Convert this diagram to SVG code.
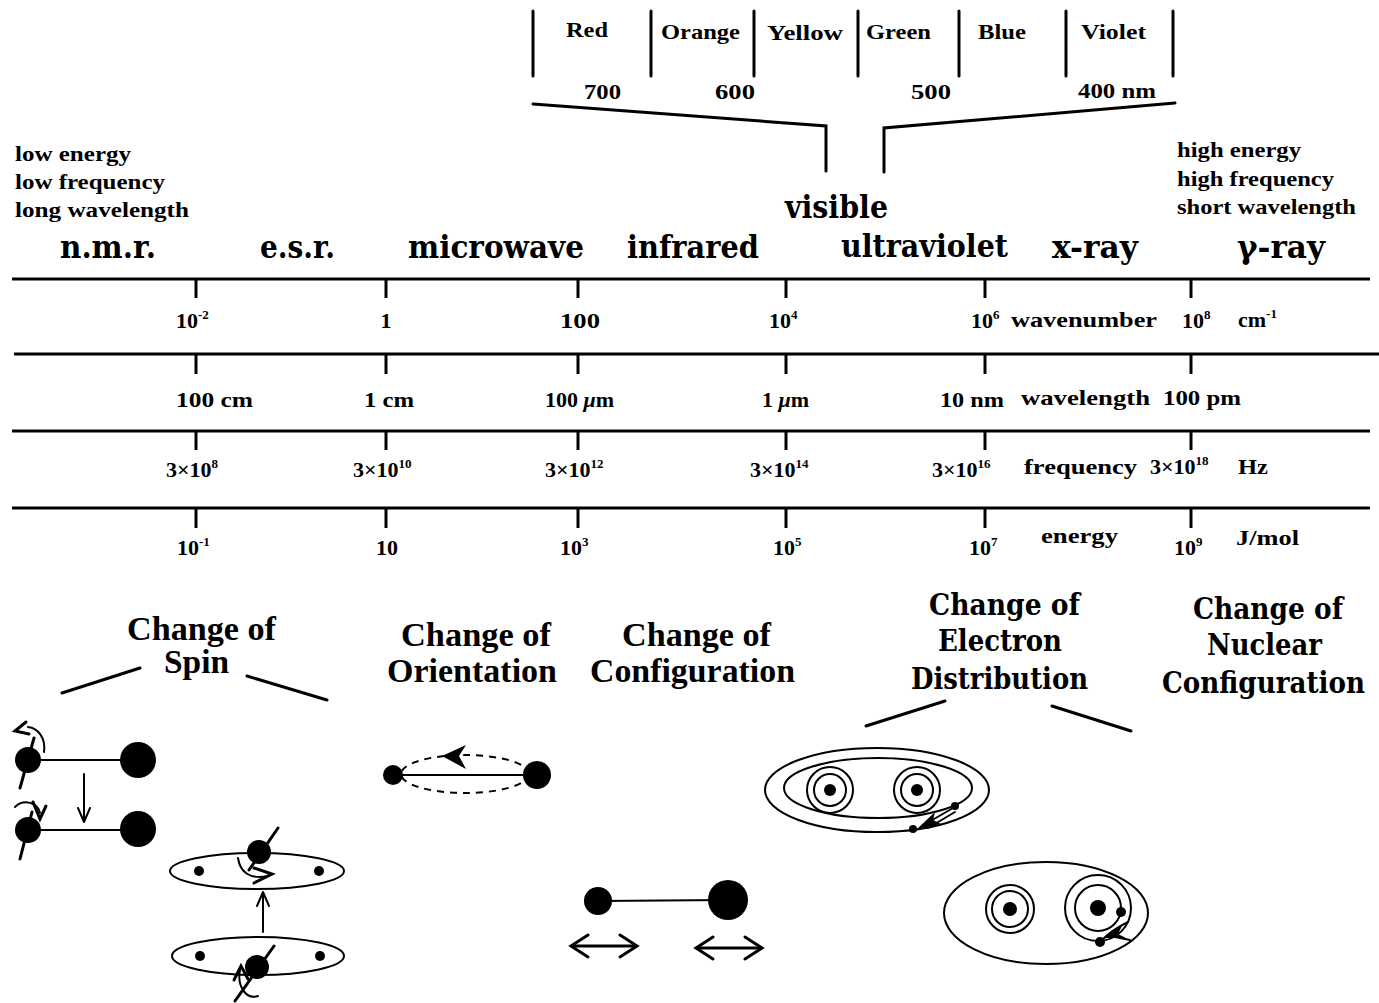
<svg xmlns="http://www.w3.org/2000/svg" width="1379" height="1003" viewBox="0 0 1379 1003">
<style>
  text { fill: #000; }
  .t { font-family: "Liberation Serif", "Times New Roman", serif; font-weight: bold; font-size: 22px; }
  .sup { font-size: 13px; }
  .h { font-family: "DejaVu Serif", serif; font-weight: bold; font-size: 31px; }
  .c { font-family: "Liberation Serif", serif; font-weight: bold; font-size: 33px; }
  .e { font-family: "DejaVu Serif", serif; font-weight: bold; font-size: 29px; }
  .ln { stroke: #000; stroke-width: 3; fill: none; stroke-linecap: round; }
  .thin { stroke: #000; stroke-width: 2; fill: none; stroke-linecap: round; stroke-linejoin: round; }
  .axis { stroke: #000; stroke-width: 3; }
  .tick { stroke: #000; stroke-width: 3; }
  .dot { fill: #000; }
</style>

<!-- visible band detail -->
<g id="visible-band">
  <g class="ln">
    <line x1="533" y1="11" x2="533" y2="76"/>
    <line x1="651" y1="11" x2="651" y2="76"/>
    <line x1="754" y1="11" x2="754" y2="76"/>
    <line x1="858" y1="11" x2="858" y2="76"/>
    <line x1="959" y1="11" x2="959" y2="76"/>
    <line x1="1066" y1="11" x2="1066" y2="76"/>
    <line x1="1173" y1="11" x2="1173" y2="76"/>
  </g>
  <text class="t" x="566" y="37" textLength="42" lengthAdjust="spacingAndGlyphs">Red</text>
  <text class="t" x="661" y="39" textLength="79" lengthAdjust="spacingAndGlyphs">Orange</text>
  <text class="t" x="767" y="40" textLength="76" lengthAdjust="spacingAndGlyphs">Yellow</text>
  <text class="t" x="866" y="39" textLength="65" lengthAdjust="spacingAndGlyphs">Green</text>
  <text class="t" x="978" y="39" textLength="48" lengthAdjust="spacingAndGlyphs">Blue</text>
  <text class="t" x="1081" y="39" textLength="65" lengthAdjust="spacingAndGlyphs">Violet</text>
  <text class="t" x="584" y="99" textLength="37" lengthAdjust="spacingAndGlyphs">700</text>
  <text class="t" x="715" y="99" textLength="40" lengthAdjust="spacingAndGlyphs">600</text>
  <text class="t" x="911" y="99" textLength="40" lengthAdjust="spacingAndGlyphs">500</text>
  <text class="t" x="1078" y="98" textLength="78" lengthAdjust="spacingAndGlyphs">400 nm</text>
</g>

<!-- end notes -->
<g id="low-end">
  <text class="t" x="15" y="161" textLength="116" lengthAdjust="spacingAndGlyphs">low energy</text>
  <text class="t" x="15" y="189" textLength="150" lengthAdjust="spacingAndGlyphs">low frequency</text>
  <text class="t" x="15" y="217" textLength="174" lengthAdjust="spacingAndGlyphs">long wavelength</text>
</g>
<g id="high-end">
  <text class="t" x="1177" y="157" textLength="124" lengthAdjust="spacingAndGlyphs">high energy</text>
  <text class="t" x="1177" y="186" textLength="157" lengthAdjust="spacingAndGlyphs">high frequency</text>
  <text class="t" x="1177" y="214" textLength="179" lengthAdjust="spacingAndGlyphs">short wavelength</text>
</g>

<!-- region names -->
<g id="regions">
  <text class="h" x="60" y="258" textLength="96" lengthAdjust="spacingAndGlyphs">n.m.r.</text>
  <text class="h" x="260" y="258" textLength="75" lengthAdjust="spacingAndGlyphs">e.s.r.</text>
  <text class="h" x="408" y="258" textLength="176" lengthAdjust="spacingAndGlyphs">microwave</text>
  <text class="h" x="627" y="258" textLength="132" lengthAdjust="spacingAndGlyphs">infrared</text>
  <text class="h" x="785" y="218" textLength="103" lengthAdjust="spacingAndGlyphs">visible</text>
  <text class="h" x="841" y="257" textLength="167" lengthAdjust="spacingAndGlyphs">ultraviolet</text>
  <text class="h" x="1052" y="258" textLength="86" lengthAdjust="spacingAndGlyphs">x-ray</text>
  <text class="h" x="1237" y="258" textLength="88" lengthAdjust="spacingAndGlyphs">γ-ray</text>
</g>

<!-- scales -->
<g id="scale-wavenumber">
  <line class="axis" x1="12" y1="279" x2="1370" y2="279"/>
  <g class="tick">
    <line x1="196" y1="279" x2="196" y2="298"/><line x1="386" y1="279" x2="386" y2="298"/>
    <line x1="578" y1="279" x2="578" y2="298"/><line x1="786" y1="279" x2="786" y2="298"/>
    <line x1="985" y1="279" x2="985" y2="298"/><line x1="1191" y1="279" x2="1191" y2="298"/>
  </g>
  <text class="t" x="176" y="328">10<tspan class="sup" dy="-9">-2</tspan></text>
  <text class="t" x="386" y="328" text-anchor="middle">1</text>
  <text class="t" x="560" y="328" textLength="40" lengthAdjust="spacingAndGlyphs">100</text>
  <text class="t" x="769" y="328">10<tspan class="sup" dy="-9">4</tspan></text>
  <text class="t" x="971" y="328">10<tspan class="sup" dy="-9">6</tspan></text>
  <text class="t" x="1011" y="327" textLength="146" lengthAdjust="spacingAndGlyphs">wavenumber</text>
  <text class="t" x="1182" y="328">10<tspan class="sup" dy="-9">8</tspan></text>
  <text class="t" x="1238" y="327">cm<tspan class="sup" dy="-9">-1</tspan></text>
</g>

<g id="scale-wavelength">
  <line class="axis" x1="14" y1="354" x2="1379" y2="354"/>
  <g class="tick">
    <line x1="196" y1="354" x2="196" y2="374"/><line x1="386" y1="354" x2="386" y2="374"/>
    <line x1="578" y1="354" x2="578" y2="374"/><line x1="786" y1="354" x2="786" y2="374"/>
    <line x1="985" y1="354" x2="985" y2="374"/><line x1="1191" y1="354" x2="1191" y2="374"/>
  </g>
  <text class="t" x="176" y="407" textLength="77" lengthAdjust="spacingAndGlyphs">100 cm</text>
  <text class="t" x="364" y="407" textLength="50" lengthAdjust="spacingAndGlyphs">1 cm</text>
  <text class="t" x="545" y="407">100 <tspan font-style="italic">μ</tspan>m</text>
  <text class="t" x="762" y="407">1 <tspan font-style="italic">μ</tspan>m</text>
  <text class="t" x="940" y="407" textLength="64" lengthAdjust="spacingAndGlyphs">10 nm</text>
  <text class="t" x="1021" y="405" textLength="129" lengthAdjust="spacingAndGlyphs">wavelength</text>
  <text class="t" x="1163" y="405" textLength="78" lengthAdjust="spacingAndGlyphs">100 pm</text>
</g>

<g id="scale-frequency">
  <line class="axis" x1="12" y1="431" x2="1370" y2="431"/>
  <g class="tick">
    <line x1="196" y1="431" x2="196" y2="450"/><line x1="386" y1="431" x2="386" y2="450"/>
    <line x1="578" y1="431" x2="578" y2="450"/><line x1="786" y1="431" x2="786" y2="450"/>
    <line x1="985" y1="431" x2="985" y2="450"/><line x1="1191" y1="431" x2="1191" y2="450"/>
  </g>
  <text class="t" x="166" y="477">3×10<tspan class="sup" dy="-9">8</tspan></text>
  <text class="t" x="353" y="477">3×10<tspan class="sup" dy="-9">10</tspan></text>
  <text class="t" x="545" y="477">3×10<tspan class="sup" dy="-9">12</tspan></text>
  <text class="t" x="750" y="477">3×10<tspan class="sup" dy="-9">14</tspan></text>
  <text class="t" x="932" y="477">3×10<tspan class="sup" dy="-9">16</tspan></text>
  <text class="t" x="1024" y="474" textLength="113" lengthAdjust="spacingAndGlyphs">frequency</text>
  <text class="t" x="1150" y="474">3×10<tspan class="sup" dy="-9">18</tspan></text>
  <text class="t" x="1238" y="474" textLength="30" lengthAdjust="spacingAndGlyphs">Hz</text>
</g>

<g id="scale-energy">
  <line class="axis" x1="12" y1="508" x2="1370" y2="508"/>
  <g class="tick">
    <line x1="196" y1="508" x2="196" y2="528"/><line x1="386" y1="508" x2="386" y2="528"/>
    <line x1="578" y1="508" x2="578" y2="528"/><line x1="786" y1="508" x2="786" y2="528"/>
    <line x1="985" y1="508" x2="985" y2="528"/><line x1="1191" y1="508" x2="1191" y2="528"/>
  </g>
  <text class="t" x="177" y="555">10<tspan class="sup" dy="-9">-1</tspan></text>
  <text class="t" x="376" y="555">10</text>
  <text class="t" x="560" y="555">10<tspan class="sup" dy="-9">3</tspan></text>
  <text class="t" x="773" y="555">10<tspan class="sup" dy="-9">5</tspan></text>
  <text class="t" x="969" y="555">10<tspan class="sup" dy="-9">7</tspan></text>
  <text class="t" x="1041" y="543" textLength="77" lengthAdjust="spacingAndGlyphs">energy</text>
  <text class="t" x="1174" y="555">10<tspan class="sup" dy="-9">9</tspan></text>
  <text class="t" x="1236" y="545" textLength="63" lengthAdjust="spacingAndGlyphs">J/mol</text>
</g>

<!-- process captions -->
<g id="spin-label">
  <text class="c" x="127" y="640" textLength="149" lengthAdjust="spacingAndGlyphs">Change of</text>
  <text class="c" x="164" y="673" textLength="65" lengthAdjust="spacingAndGlyphs">Spin</text>
</g>
<g id="orientation-label">
  <text class="c" x="401" y="646" textLength="150" lengthAdjust="spacingAndGlyphs">Change of</text>
  <text class="c" x="387" y="682" textLength="170" lengthAdjust="spacingAndGlyphs">Orientation</text>
</g>
<g id="configuration-label">
  <text class="c" x="622" y="646" textLength="149" lengthAdjust="spacingAndGlyphs">Change of</text>
  <text class="c" x="590" y="682" textLength="205" lengthAdjust="spacingAndGlyphs">Configuration</text>
</g>
<g id="electron-label">
  <text class="e" x="929" y="615" textLength="151" lengthAdjust="spacingAndGlyphs">Change of</text>
  <text class="e" x="938" y="651" textLength="124" lengthAdjust="spacingAndGlyphs">Electron</text>
  <text class="e" x="911" y="689" textLength="177" lengthAdjust="spacingAndGlyphs">Distribution</text>
</g>
<g id="nuclear-label">
  <text class="e" x="1193" y="619" textLength="150" lengthAdjust="spacingAndGlyphs">Change of</text>
  <text class="e" x="1207" y="655" textLength="115" lengthAdjust="spacingAndGlyphs">Nuclear</text>
  <text class="e" x="1365" y="693" font-size="27" text-anchor="end" textLength="203" lengthAdjust="spacingAndGlyphs">Configuration</text>
</g>

<!-- spin: diatomic pair -->
<g id="spin-diatomic">
  <line class="thin" x1="28" y1="760" x2="138" y2="760"/>
  <circle class="dot" cx="28" cy="760" r="13"/>
  <circle class="dot" cx="138" cy="760" r="18"/>
  <line class="ln" x1="20" y1="788" x2="34" y2="738"/>
  <path class="thin" d="M44 752 C46 738 38 728 28 727"/>
  <path class="ln" d="M26 722 L15 731 L29 734"/>
  <line class="thin" x1="28" y1="830" x2="138" y2="830"/>
  <circle class="dot" cx="28" cy="830" r="13"/>
  <circle class="dot" cx="138" cy="829" r="18"/>
  <line class="ln" x1="20" y1="859" x2="32" y2="812"/>
  <path class="thin" d="M15 807 C24 798 38 803 40 813"/>
  <path class="ln" d="M33 802 L40 819 L46 806"/>
</g>

<!-- spin: planar molecule -->
<g id="spin-planar">
  <ellipse class="thin" cx="257" cy="871" rx="87" ry="18"/>
  <circle class="dot" cx="199" cy="871" r="5"/>
  <circle class="dot" cx="319" cy="871" r="5"/>
  <circle class="dot" cx="259" cy="852" r="12"/>
  <line class="ln" x1="278" y1="828" x2="249" y2="870"/>
  <path class="thin" d="M238 858 C240 872 250 880 268 876"/>
  <path class="ln" d="M254 868 L272 874 L254 883"/>
  <ellipse class="thin" cx="258" cy="956" rx="86" ry="19"/>
  <circle class="dot" cx="200" cy="956" r="5"/>
  <circle class="dot" cx="320" cy="956" r="5"/>
  <circle class="dot" cx="257" cy="967" r="12"/>
  <line class="ln" x1="274" y1="946" x2="235" y2="1001"/>
  <path class="thin" d="M258 996 C245 1000 237 985 240 970"/>
  <path class="ln" d="M234 980 L241 966 L248 979"/>
</g>

<!-- orientation: rotating diatomic -->
<g id="orientation-diatomic">
  <ellipse cx="465" cy="774" rx="64" ry="19" fill="none" stroke="#000" stroke-width="2" stroke-dasharray="7 6"/>
  <line class="thin" x1="393" y1="775" x2="537" y2="775"/>
  <circle class="dot" cx="393" cy="775" r="10"/>
  <circle class="dot" cx="537" cy="775" r="14"/>
  <path class="dot" d="M442 756 L466 745 L459 756 L466 769 Z"/>
</g>

<!-- configuration: vibrating diatomic -->
<g id="configuration-diatomic">
  <line class="thin" x1="598" y1="901" x2="728" y2="900"/>
  <circle class="dot" cx="598" cy="901" r="14"/>
  <circle class="dot" cx="728" cy="900" r="20"/>
</g>

<!-- electronic states -->
<g id="electron-ground">
  <ellipse class="thin" cx="877" cy="790" rx="112" ry="42"/>
  <ellipse class="thin" cx="878" cy="788" rx="94" ry="30"/>
  <circle class="thin" cx="830" cy="790" r="23"/>
  <circle class="thin" cx="830" cy="790" r="16"/>
  <circle class="dot" cx="830" cy="790" r="6"/>
  <circle class="thin" cx="917" cy="790" r="23"/>
  <circle class="thin" cx="917" cy="790" r="16"/>
  <circle class="dot" cx="917" cy="790" r="6"/>
  <circle class="dot" cx="955" cy="806" r="4"/>
  <circle class="dot" cx="913" cy="829" r="4"/>
</g>
<g id="electron-excited">
  <ellipse class="thin" cx="1046" cy="913" rx="102" ry="51"/>
  <circle class="thin" cx="1010" cy="909" r="24"/>
  <circle class="thin" cx="1010" cy="909" r="18"/>
  <circle class="dot" cx="1010" cy="909" r="7"/>
  <circle class="thin" cx="1098" cy="908" r="33"/>
  <circle class="thin" cx="1098" cy="908" r="23"/>
  <circle class="dot" cx="1098" cy="908" r="8"/>
  <circle class="dot" cx="1121" cy="912" r="5"/>
  <circle class="dot" cx="1100" cy="942" r="5"/>
</g>

<!-- connectors -->
<g id="connectors">
  <polyline class="ln" points="533,104 826,126 826,171"/>
  <polyline class="ln" points="1175,103 884,128 884,172"/>
  <line class="ln" x1="62" y1="693" x2="140" y2="668"/>
  <line class="ln" x1="247" y1="676" x2="327" y2="700"/>
  <line class="ln" x1="866" y1="726" x2="945" y2="701"/>
  <line class="ln" x1="1052" y1="706" x2="1131" y2="731"/>
  <!-- spin flip arrows -->
  <line class="thin" x1="84" y1="774" x2="84" y2="821"/>
  <polyline class="thin" points="78,808 84,822 90,808"/>
  <line class="thin" x1="263" y1="932" x2="263" y2="893"/>
  <polyline class="thin" points="257,906 263,892 269,906"/>
  <!-- vibration arrows -->
  <line class="ln" x1="572" y1="946" x2="636" y2="946"/>
  <polyline class="ln" points="588,935 571,946 588,957"/>
  <polyline class="ln" points="620,935 637,946 620,957"/>
  <line class="ln" x1="697" y1="948" x2="761" y2="948"/>
  <polyline class="ln" points="713,937 696,948 713,959"/>
  <polyline class="ln" points="745,937 762,948 745,959"/>
  <!-- electron transitions -->
  <path class="thin" d="M953 808 L922 826"/>
  <path class="thin" d="M955 812 L928 828"/>
  <path class="dot" d="M917 829 L935 812 L933 820 L941 824 Z"/>
  <path class="thin" d="M1102 940 C1112 930 1122 925 1128 922"/>
  <path class="thin" d="M1110 936 L1130 940"/>
  <path class="dot" d="M1103 938 L1122 926 L1118 934 L1126 938 Z"/>
</g>
</svg>
